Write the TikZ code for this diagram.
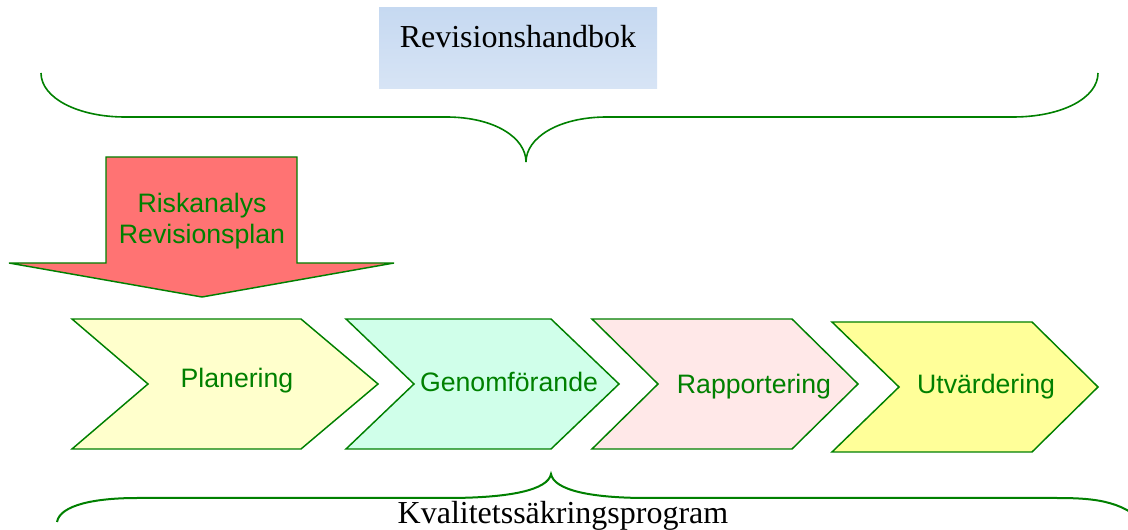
\documentclass[tikz,border=0pt]{standalone}
\usepackage{fontspec}
\setmainfont{Liberation Serif}
\newfontfamily\arialf{Liberation Sans}
\definecolor{gr}{HTML}{008000}
\definecolor{boxtop}{HTML}{C6D9F1}
\definecolor{boxbot}{HTML}{D7E4F5}
\definecolor{redarrow}{HTML}{FF7373}
\definecolor{cA}{HTML}{FFFFCC}
\definecolor{cB}{HTML}{D0FFEA}
\definecolor{cC}{HTML}{FFE8E8}
\definecolor{cD}{HTML}{FFFF99}
\tikzset{
  chev/.style={draw=gr, line width=1.1pt, line join=miter},
  gtext/.style={anchor=base, inner sep=0pt, text=gr, font=\arialf\fontsize{20}{24}\selectfont},
  btext/.style={anchor=base, inner sep=0pt, text=black, font=\fontsize{24}{28}\selectfont},
  bracestyle/.style={draw=gr, line width=1.2pt},
}
\begin{document}
\begin{tikzpicture}[x=0.75pt,y=-0.75pt]
\useasboundingbox (0,0) rectangle (1128,530);
\clip (0,0) rectangle (1128,530);
% top box
\shade[top color=boxtop, bottom color=boxbot] (379,8) rectangle (657,89);
\node[btext] (hb) at (518,48) {Revisionshandbok};
% top brace
\coordinate (tb1) at (41,73);
\coordinate (tbtip) at (526,162);
\coordinate (tb2) at (1098,73);
\draw[bracestyle] (tb1) .. controls (41,98) and (78,117) .. (125,117) -- (446,117)
  .. controls (495,117) and (526,138) .. (tbtip)
  .. controls (526,138) and (558,117) .. (607,117) -- (1013,117)
  .. controls (1062,117) and (1098,98) .. (tb2);
% red arrow
\filldraw[chev, fill=redarrow] (106,157) -- (297,157) -- (297,263) -- (394,263) -- (202,297) -- (9,263) -- (106,263) -- cycle;
\node[gtext] (ra) at (202,213) {Riskanalys};
\node[gtext] (rp) at (202,244) {Revisionsplan};
% chevrons
\filldraw[chev, fill=cA] (72,319) -- (301,319) -- (378,384) -- (301,449) -- (72,449) -- (148,384) -- cycle;
\filldraw[chev, fill=cB] (346,319) -- (551,319) -- (619,384) -- (551,449) -- (346,449) -- (414,384) -- cycle;
\filldraw[chev, fill=cC] (592,319) -- (792,319) -- (858,384) -- (792,449) -- (592,449) -- (658,384) -- cycle;
\filldraw[chev, fill=cD] (832,322) -- (1032,322) -- (1098,387) -- (1032,452) -- (832,452) -- (899,387) -- cycle;
\node[gtext] (pl) at (237,388) {Planering};
\node[gtext] (ge) at (509,392) {Genomförande};
\node[gtext] (ra2) at (754,394) {Rapportering};
\node[gtext] (ut) at (986,394) {Utvärdering};
% bottom brace
\coordinate (bb1) at (57,522);
\coordinate (bbtip) at (551,474);
\coordinate (bb2) at (1150,528);
\draw[bracestyle, line width=1.5pt] (bb1) .. controls (60,505) and (95,498) .. (137,498) -- (447,498)
  .. controls (510,498) and (548,490) .. (bbtip)
  .. controls (554,490) and (590,498) .. (647,498) -- (1057,498)
  .. controls (1100,498) and (1125,502) .. (bb2);
\node[btext] (kv) at (563,523) {Kvalitetssäkringsprogram};
\end{tikzpicture}
\end{document}
